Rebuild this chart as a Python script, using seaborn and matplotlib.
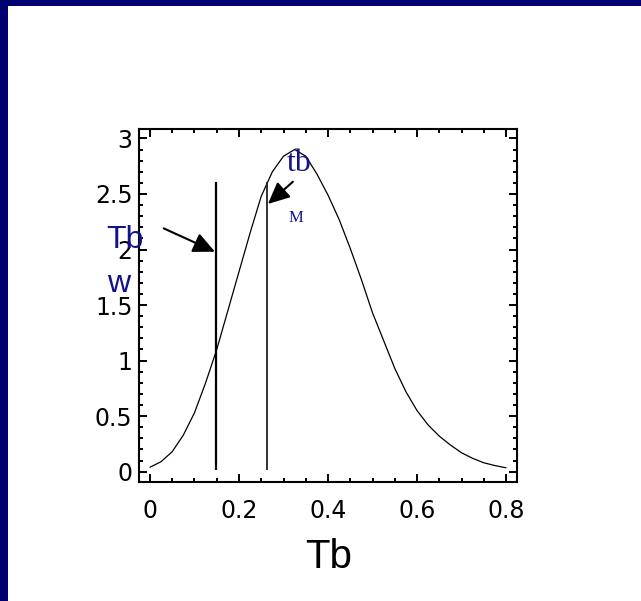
import numpy as np
import pandas as pd
import matplotlib
matplotlib.use('Agg')
import matplotlib.pyplot as plt
import seaborn as sns
from matplotlib.patches import Rectangle
from matplotlib.ticker import MultipleLocator

sns.set_style('white')
plt.rcParams['font.family'] = ['Liberation Sans', 'DejaVu Sans']
plt.rcParams['text.color'] = 'black'
plt.rcParams['axes.labelcolor'] = 'black'
plt.rcParams['xtick.color'] = 'black'
plt.rcParams['ytick.color'] = 'black'

# 分布曲线
tb = [0, 0.025, 0.05, 0.075, 0.1, 0.125, 0.15, 0.175, 0.2, 0.225, 0.25, 0.275,
      0.3, 0.325, 0.35, 0.375, 0.4, 0.425, 0.45, 0.475, 0.5, 0.525, 0.55, 0.575,
      0.6, 0.625, 0.65, 0.675, 0.7, 0.725, 0.75, 0.775, 0.8]
density = [0.04, 0.09, 0.18, 0.33, 0.53, 0.80, 1.10, 1.45, 1.80, 2.15, 2.48, 2.70,
           2.84, 2.90, 2.84, 2.68, 2.49, 2.27, 2.01, 1.73, 1.43, 1.18, 0.93, 0.72,
           0.55, 0.42, 0.32, 0.24, 0.17, 0.12, 0.08, 0.055, 0.035]

# 竖线位置: Tb_w 和 tb_M
marker_x = [0.148, 0.262]
marker_bottom = 0.015
marker_top = 2.61

x_ticks = [0, 0.2, 0.4, 0.6, 0.8]
y_ticks = [0, 0.5, 1, 1.5, 2, 2.5, 3]

df = pd.DataFrame({'Tb': tb, 'f': density})

fig = plt.figure(figsize=(6.41, 6.01), dpi=100)
fig.patch.set_facecolor('white')
# 深蓝色边框
navy = '#000070'
fig.patches.append(Rectangle((0, 1 - 6 / 601), 1, 6 / 601, transform=fig.transFigure,
                             facecolor=navy, edgecolor='none', zorder=0))
fig.patches.append(Rectangle((0, 0), 8 / 641, 1, transform=fig.transFigure,
                             facecolor=navy, edgecolor='none', zorder=0))

ax = fig.add_axes([0.2176, 0.198, 0.589, 0.5874])
sns.lineplot(data=df, x='Tb', y='f', ax=ax, color='black', linewidth=0.9)

ax.vlines(marker_x[0], marker_bottom, marker_top, color='black', linewidth=1.6)
ax.vlines(marker_x[1], marker_bottom, marker_top, color='#222222', linewidth=1.3)

ax.set_xlim(-0.0236, 0.8247)
ax.set_ylim(-0.093, 3.085)
ax.set_xticks(x_ticks)
ax.set_xticklabels(['0', '0.2', '0.4', '0.6', '0.8'])
ax.set_yticks(y_ticks)
ax.set_yticklabels(['0', '0.5', '1', '1.5', '2', '2.5', '3'])
ax.xaxis.set_minor_locator(MultipleLocator(0.05))
ax.yaxis.set_minor_locator(MultipleLocator(0.1))
ax.tick_params(which='both', direction='in', top=True, right=True, bottom=True, left=True,
               color='black', width=1.4)
ax.tick_params(which='major', length=6, labelsize=17)
ax.tick_params(axis='x', which='major', pad=12)
ax.tick_params(axis='y', which='major', pad=5)
ax.tick_params(which='minor', length=3)
for lbl in ax.get_xticklabels() + ax.get_yticklabels():
    lbl.set_family('DejaVu Sans')
    lbl.set_color('black')
for s in ax.spines.values():
    s.set_color('black')
    s.set_linewidth(1.5)

ax.set_xlabel('Tb', fontsize=29, labelpad=11, color='black')
ax.set_ylabel('')

# 注释
blue = '#12128a'
arrow = dict(arrowstyle='-|>,head_length=0.6,head_width=0.28', color='black', lw=1.5,
             mutation_scale=22, shrinkA=0, shrinkB=0)
ax.annotate('', xy=(0.146, 1.98), xytext=(0.031, 2.19), arrowprops=arrow,
            annotation_clip=False)
ax.annotate('', xy=(0.265, 2.41), xytext=(0.321, 2.61), arrowprops=arrow,
            annotation_clip=False)
ax.text(-0.056, 2.09, 'Tb', color=blue, fontsize=23, ha='center', va='center', clip_on=False)
ax.text(-0.070, 1.69, 'w', color=blue, fontsize=23, ha='center', va='center', clip_on=False)
ax.text(0.335, 2.77, 'tb', color=blue, fontsize=23, family='Liberation Serif',
        ha='center', va='center')
ax.text(0.328, 2.28, 'M', color=blue, fontsize=12, family='Liberation Serif',
        ha='center', va='center')

plt.savefig('out.png', dpi=100)
